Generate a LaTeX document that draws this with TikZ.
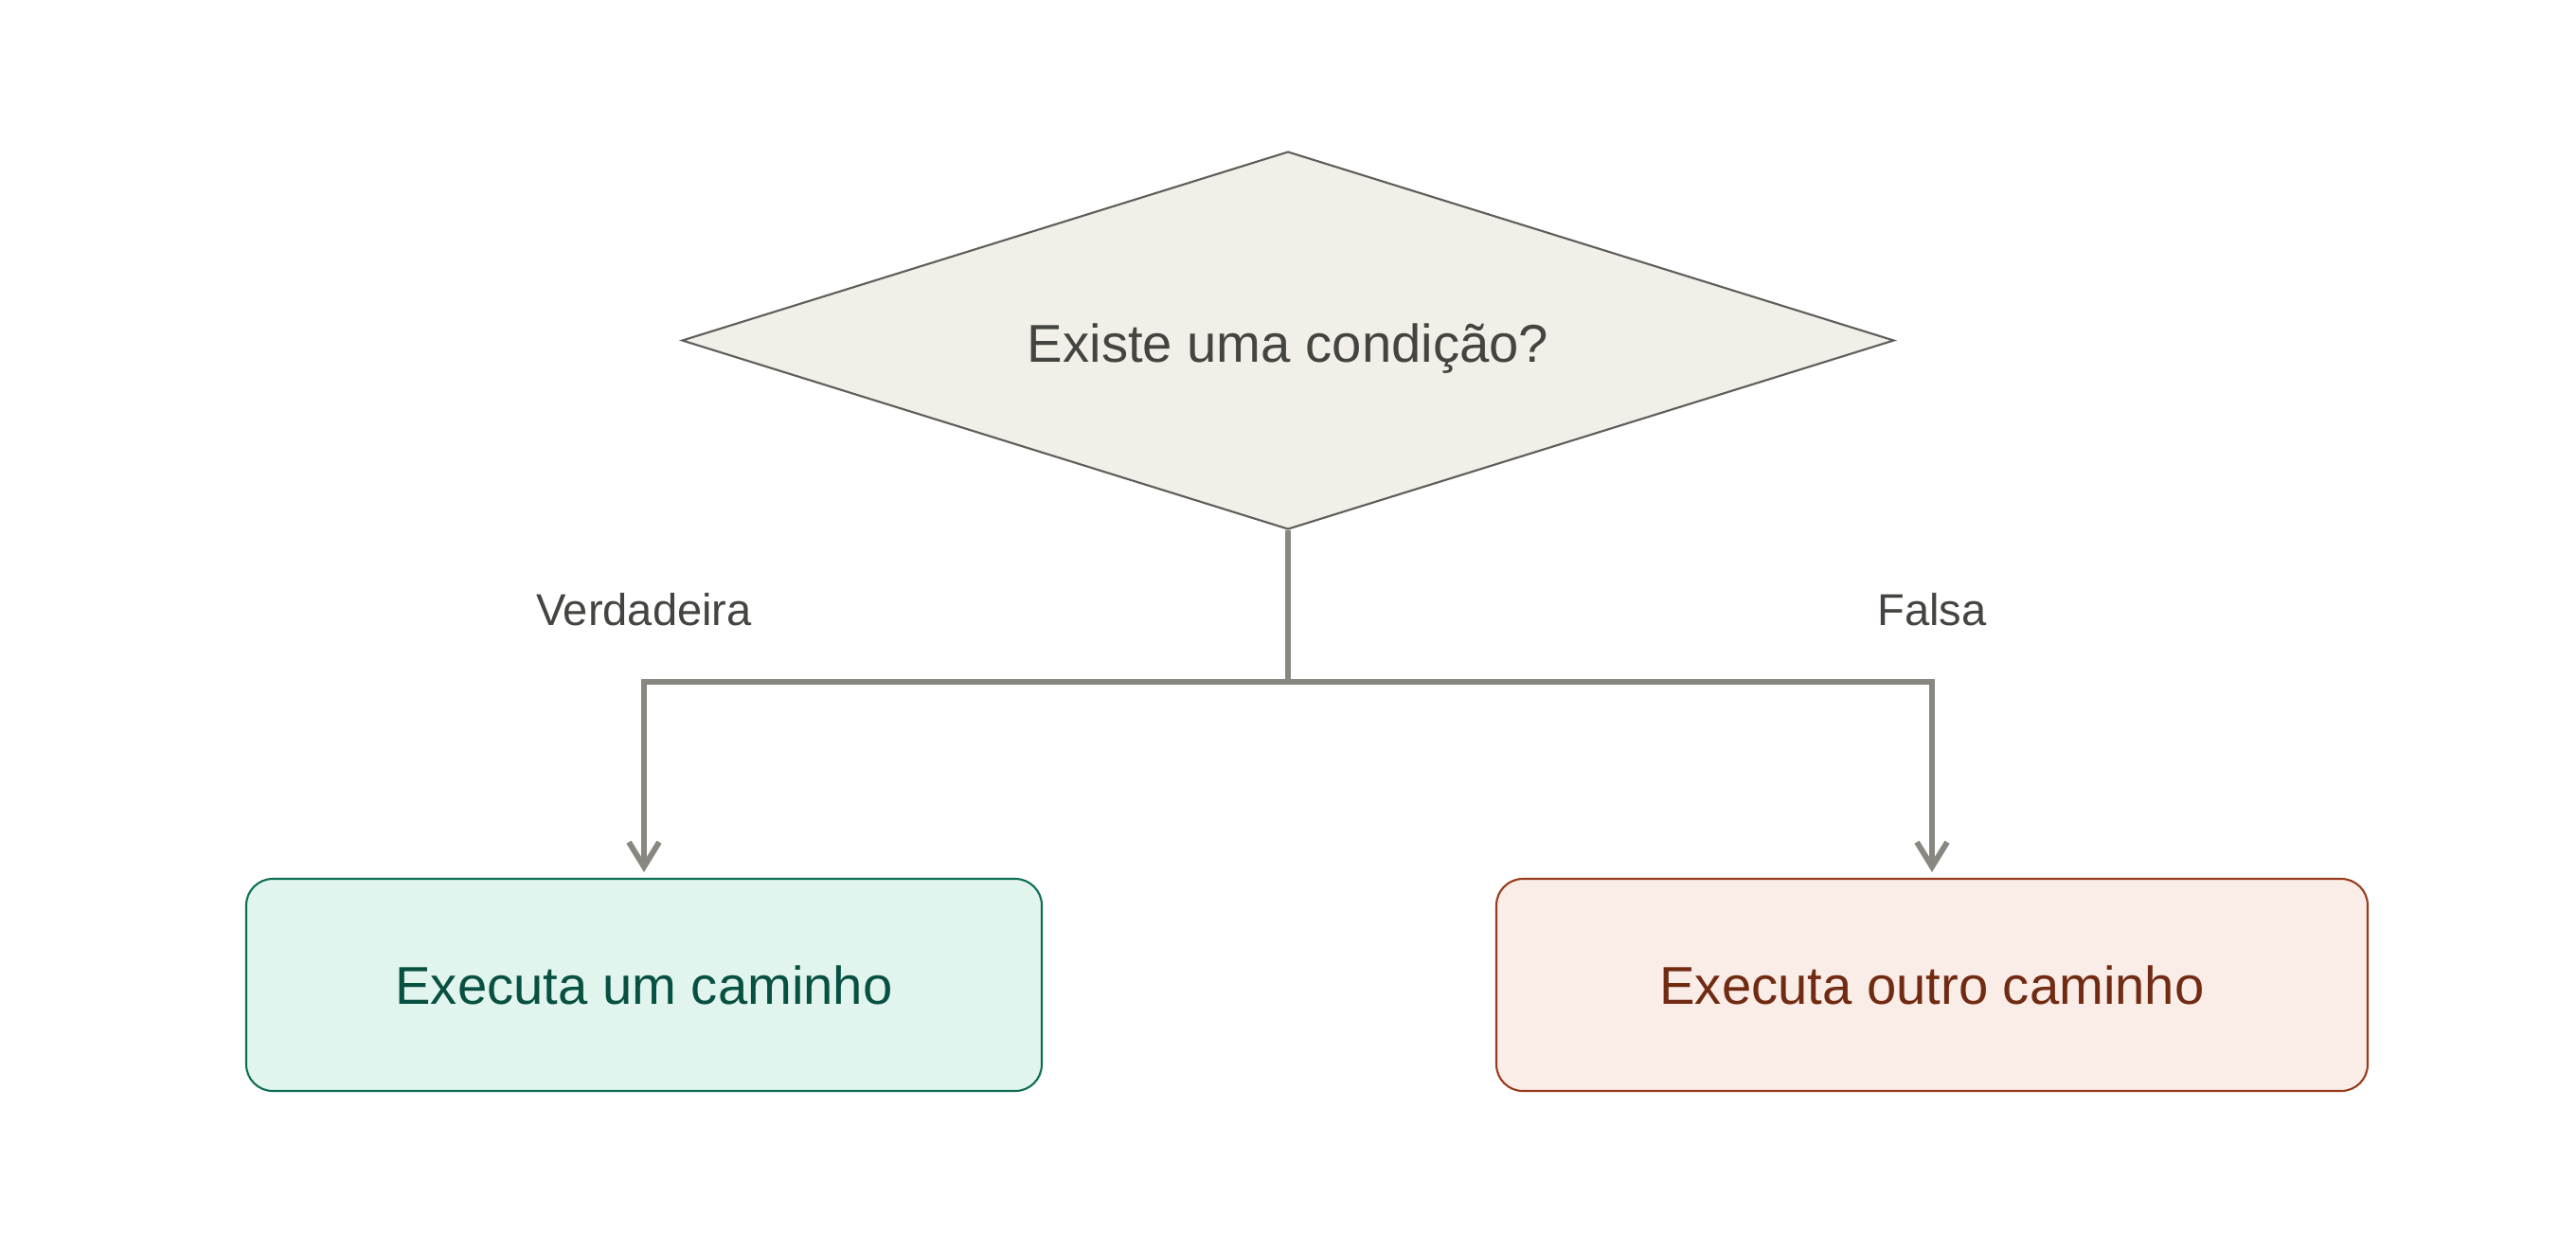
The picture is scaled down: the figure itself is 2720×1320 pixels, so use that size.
\documentclass[tikz,border=0pt]{standalone}
\usepackage{fontspec}
\setmainfont{Liberation Sans}
\usetikzlibrary{shapes.geometric,arrows.meta}
\definecolor{dfill}{HTML}{F1EFE8}
\definecolor{dline}{HTML}{5F5E5A}
\definecolor{dtext}{HTML}{444441}
\definecolor{conn}{HTML}{888780}
\definecolor{gfill}{HTML}{E1F5EE}
\definecolor{gline}{HTML}{0F6E56}
\definecolor{gtext}{HTML}{085041}
\definecolor{rfill}{HTML}{FAECE7}
\definecolor{rline}{HTML}{993C1D}
\definecolor{rtext}{HTML}{712B13}
\tikzset{
  decision/.style={diamond, aspect=3.2, inner sep=0pt, minimum width=128mm, minimum height=39.9mm,
    fill=dfill, draw=dline, line width=0.6pt, text=dtext, font=\fontsize{16}{19}\selectfont,
    text height=12.8pt, text depth=0pt},
  pathbox/.style={rectangle, rounded corners=2.8mm, minimum height=22.4mm, line width=0.6pt,
    font=\fontsize{16}{19}\selectfont},
  connector/.style={draw=conn, line width=1.7pt},
  arrowed/.style={connector, -{Straight Barb[length=2.6mm,width=3.2mm,line width=1.7pt]}, shorten >=0.6mm},
  branchlabel/.style={text=dtext, font=\fontsize{13.4}{16}\selectfont},
}
\begin{document}
\begin{tikzpicture}[x=0.1mm, y=-0.1mm]
\fill[white] (0,0) rectangle (2720,1320);
\useasboundingbox (0,0) rectangle (2720,1320);
\node[decision] (d) at (1360,359.5) {Existe uma condição?};
\node[pathbox, fill=gfill, draw=gline, text=gtext, minimum width=84mm] (a) at (680,1040) {Executa um caminho};
\node[pathbox, fill=rfill, draw=rline, text=rtext, minimum width=92mm] (b) at (2040,1040) {Executa outro caminho};
\coordinate (split) at (1360,720);
\draw[connector] (d.south) -- (split);
\draw[arrowed] (split) -| (a.north);
\draw[arrowed] (split) -| (b.north);
\node[branchlabel] (lt) at (680,644) {Verdadeira};
\node[branchlabel] (lf) at (2040,644) {Falsa};
\end{tikzpicture}
\end{document}
